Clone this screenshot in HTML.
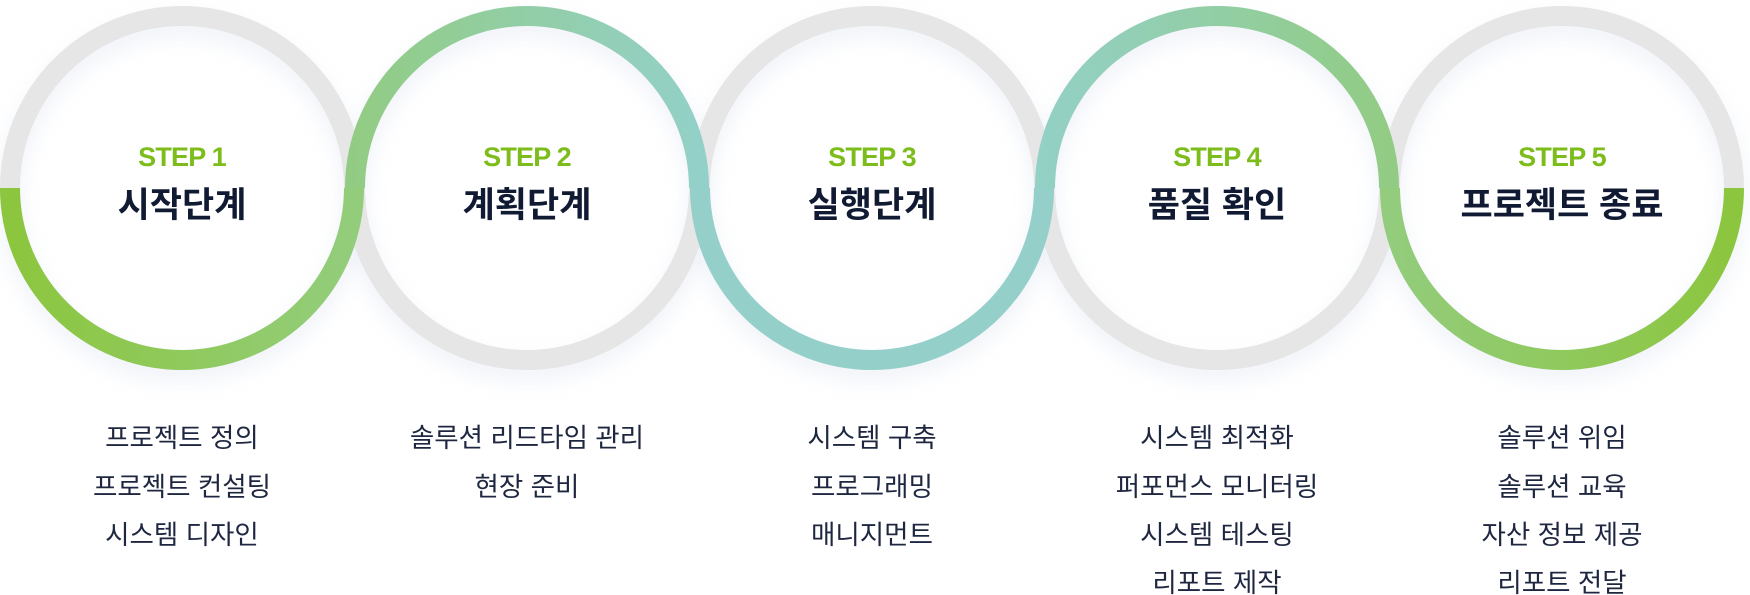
<!DOCTYPE html>
<html><head><meta charset="utf-8"><style>
body{margin:0;background:#fff;width:1750px;height:595px;overflow:hidden;}
svg{display:block}
.step{font-family:"Liberation Sans",sans-serif;font-weight:700;font-size:27px;fill:#7dbd1b;text-anchor:middle;letter-spacing:-0.8px}
.ttl{font-family:"Liberation Sans","Noto Sans CJK KR",sans-serif;font-weight:700;font-size:35px;fill:#111a33;text-anchor:middle}
.it{font-family:"Liberation Sans","Noto Sans CJK KR",sans-serif;font-size:26.5px;fill:#1e2640;text-anchor:middle}
</style></head><body>
<svg width="1750" height="595" viewBox="0 0 1750 595" xmlns="http://www.w3.org/2000/svg">
<defs>
<linearGradient id="g1" gradientUnits="userSpaceOnUse" x1="10" y1="0" x2="354" y2="0"><stop offset="0" stop-color="#8cc63e"/><stop offset="1" stop-color="#93cd7c"/></linearGradient>
<linearGradient id="g2" gradientUnits="userSpaceOnUse" x1="355" y1="0" x2="699" y2="0"><stop offset="0" stop-color="#92cc84"/><stop offset="1" stop-color="#93d0c8"/></linearGradient>
<linearGradient id="g4" gradientUnits="userSpaceOnUse" x1="1045" y1="0" x2="1389" y2="0"><stop offset="0" stop-color="#93d0c5"/><stop offset="1" stop-color="#92cc84"/></linearGradient>
<linearGradient id="g5" gradientUnits="userSpaceOnUse" x1="1390" y1="0" x2="1734" y2="0"><stop offset="0" stop-color="#93cc7c"/><stop offset="1" stop-color="#8cc63e"/></linearGradient>
<filter id="sh" x="-20%" y="-20%" width="140%" height="150%"><feDropShadow dx="0" dy="10" stdDeviation="10" flood-color="#c8d0e8" flood-opacity="0.3"/></filter>
</defs>
<g fill="none" stroke="#e6e6e6" stroke-width="20" filter="url(#sh)">
<circle cx="182" cy="188" r="172"/>
<circle cx="527" cy="188" r="172"/>
<circle cx="872" cy="188" r="172"/>
<circle cx="1217" cy="188" r="172"/>
<circle cx="1562" cy="188" r="172"/>
</g>
<g fill="none" stroke-width="20">
<path d="M10,188 A172,172 0 0 0 354,188" stroke="url(#g1)"/>
<path d="M355,188 A172,172 0 0 1 699,188" stroke="url(#g2)"/>
<path d="M700,188 A172,172 0 0 0 1044,188" stroke="#94d0c9"/>
<path d="M1045,188 A172,172 0 0 1 1389,188" stroke="url(#g4)"/>
<path d="M1390,188 A172,172 0 0 0 1734,188" stroke="url(#g5)"/>
</g>
<g>
<text class="step" x="182" y="166">STEP 1</text><text class="ttl" x="182" y="217">시작단계</text>
<text class="step" x="527" y="166">STEP 2</text><text class="ttl" x="527" y="217">계획단계</text>
<text class="step" x="872" y="166">STEP 3</text><text class="ttl" x="872" y="217">실행단계</text>
<text class="step" x="1217" y="166">STEP 4</text><text class="ttl" x="1217" y="217">품질 확인</text>
<text class="step" x="1562" y="166">STEP 5</text><text class="ttl" x="1562" y="217">프로젝트 종료</text>
</g>
<g>
<text class="it" x="182" y="447">프로젝트 정의</text>
<text class="it" x="182" y="496">프로젝트 컨설팅</text>
<text class="it" x="182" y="544">시스템 디자인</text>
<text class="it" x="527" y="447">솔루션 리드타임 관리</text>
<text class="it" x="527" y="496">현장 준비</text>
<text class="it" x="872" y="447">시스템 구축</text>
<text class="it" x="872" y="496">프로그래밍</text>
<text class="it" x="872" y="544">매니지먼트</text>
<text class="it" x="1217" y="447">시스템 최적화</text>
<text class="it" x="1217" y="496">퍼포먼스 모니터링</text>
<text class="it" x="1217" y="544">시스템 테스팅</text>
<text class="it" x="1217" y="592">리포트 제작</text>
<text class="it" x="1562" y="447">솔루션 위임</text>
<text class="it" x="1562" y="496">솔루션 교육</text>
<text class="it" x="1562" y="544">자산 정보 제공</text>
<text class="it" x="1562" y="592">리포트 전달</text>
</g>
</svg>
</body></html>
